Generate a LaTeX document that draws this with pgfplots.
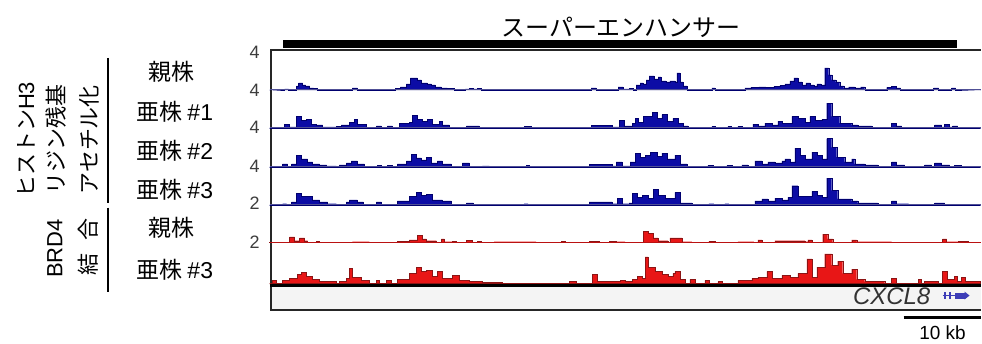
\documentclass[border=0pt]{standalone}
\usepackage{fontspec}
\setmainfont{Liberation Sans}
\newfontfamily\cjk{Noto Sans CJK JP}
\newfontfamily\lat{Liberation Sans}
\usepackage{pgfplots}
\pgfplotsset{compat=1.18}
\definecolor{h3blue}{RGB}{12,12,165}
\definecolor{h3dark}{RGB}{0,0,110}
\definecolor{h3line}{RGB}{80,80,150}
\definecolor{brdred}{RGB}{232,22,22}
\definecolor{brddark}{RGB}{140,20,20}
\definecolor{genebg}{RGB}{244,244,244}
\definecolor{numgray}{RGB}{60,60,60}
\pgfplotsset{
  track/.style={scale only axis, width=712pt, xmin=0, xmax=712, ymin=0,
    axis lines=none, anchor=south west, clip=false},
  bluesig/.style={const plot, fill=h3blue, draw=h3dark, line width=0.3pt},
  redsig/.style={const plot, fill=brdred, draw=brddark, line width=0.3pt},
}
\begin{document}
\begin{tikzpicture}
\begin{scope}[x=1pt,y=1pt]
\useasboundingbox (0,0) rectangle (982,344);
% gene track background and frame
\fill[genebg] (271,34) rectangle (982,57.5);
\draw[line width=2pt, black!85] (982,294) -- (271,294) -- (271,34) -- (982,34);
% super-enhancer
\fill[black] (283,296) rectangle (958,304);
\node[font=\cjk\fontsize{24}{28}\selectfont] at (622,317) {スーパーエンハンサー};
\end{scope}

% Track 1: H3 parent
\begin{axis}[track, at={(270pt,254pt)}, height=40pt, ymax=4]
\addplot[bluesig] coordinates {(0,0) (15,0.1) (19,0) (27,0.4) (29,0.7) (33,0.5) (36,0.4) (40,0.2) (44,0.15) (48,0) (83,0.2) (88,0) (126,0.15) (131,0.3) (137,0.6) (141,1.2) (148,1.0) (152,0.7) (158,0.6) (162,0.5) (166,0.3) (172,0.2) (178,0.15) (185,0) (196,0.1) (200,0.15) (204,0.1) (208,0.15) (212,0) (322,0.2) (327,0) (349,0.3) (354,0.1) (360,0.15) (364,0) (367,0.5) (371,0.7) (374,0.6) (377,1.0) (380,1.4) (385,1.1) (389,1.3) (392,0.9) (397,0.8) (401,0.9) (406,0.8) (408,1.7) (411,0.8) (414,0.4) (418,0) (443,0.2) (446,0) (476,0.2) (482,0.25) (490,0.3) (497,0.25) (505,0.35) (511,0.45) (516,0.6) (521,0.9) (525,1.2) (529,0.8) (533,0.5) (537,0.7) (541,0.5) (545,0.4) (548,0.6) (552,0.5) (556,2.2) (560,1.5) (563,1.0) (567,0.8) (571,0.4) (575,0.2) (580,0.3) (586,0.2) (592,0.3) (596,0) (618,0.25) (623,0.35) (628,0.2) (632,0) (665,0.2) (670,0) (683,0.2) (687,0) (712,0)} \closedcycle;
\addplot[h3line, line width=1pt] coordinates {(0,0) (712,0)};
\end{axis}

% Track 2: H3 subclone #1
\begin{axis}[track, at={(270pt,216pt)}, height=38pt, ymax=4]
\addplot[bluesig] coordinates {(0,0) (15,0.4) (20,0.1) (27,1.2) (32,0.8) (37,0.9) (42,0.4) (47,0.3) (53,0.1) (67,0.15) (72,0.3) (80,0.6) (85,0.9) (88,0.4) (97,0) (107,0.2) (112,0) (118,0.2) (123,0) (130,0.5) (140,0.6) (143,1.3) (148,0.9) (153,0.7) (158,0.9) (163,0.4) (170,0.7) (173,0.3) (180,0) (197,0.2) (210,0) (255,0.15) (262,0) (322,0.25) (343,0.1) (350,0.8) (355,0.2) (363,0.5) (366,1.0) (369,0.6) (374,1.2) (383,1.6) (388,1.0) (393,1.4) (398,0.7) (404,1.0) (409,0.5) (414,0.2) (419,0) (443,0.15) (446,0) (459,0.15) (462,0) (469,0.15) (473,0) (484,0.4) (489,0.2) (496,0.5) (503,0.3) (509,0.7) (513,0.5) (523,1.2) (529,1.0) (536,0.6) (541,1.2) (546,0.8) (553,0.9) (558,2.6) (563,1.2) (571,0.5) (583,0.3) (589,0.2) (603,0) (623,0.5) (628,0.2) (633,0) (666,0.3) (673,0.1) (676,0.4) (681,0.1) (684,0.2) (689,0) (712,0)} \closedcycle;
\addplot[h3line, line width=1pt] coordinates {(0,0) (712,0)};
\end{axis}

% Track 3: H3 subclone #2
\begin{axis}[track, at={(270pt,177pt)}, height=39pt, ymax=4]
\addplot[bluesig] coordinates {(0,0) (13,0.3) (18,0) (22,0.3) (27,1.2) (32,0.8) (38,0.5) (43,0.3) (50,0.2) (57,0.1) (67,0) (70,0.2) (77,0.4) (82,0.6) (88,0.3) (95,0) (108,0.15) (112,0) (118,0.15) (123,0) (128,0.3) (137,0.6) (142,1.3) (147,0.9) (152,0.7) (157,1.0) (162,0.4) (168,0.6) (173,0.3) (182,0) (193,0.4) (200,0) (213,0.1) (220,0) (257,0.15) (260,0) (320,0.25) (343,0.1) (347,0.5) (353,0.1) (361,0.5) (366,1.4) (371,1.0) (376,1.2) (381,1.5) (388,1.1) (393,1.4) (398,0.8) (406,1.2) (411,0.3) (418,0) (439,0.15) (444,0) (458,0.15) (463,0) (473,0.2) (479,0) (486,0.6) (493,0.3) (499,0.5) (506,0.4) (513,0.6) (516,0.8) (521,0.5) (526,1.9) (531,1.2) (536,0.8) (543,1.5) (548,1.2) (553,0.8) (558,2.9) (563,2.0) (568,1.0) (576,0.5) (583,0.8) (586,0.3) (596,0.2) (609,0) (623,0.5) (628,0.2) (636,0) (656,0.2) (663,0) (666,0.4) (673,0.2) (681,0) (686,0.15) (693,0) (712,0)} \closedcycle;
\addplot[h3line, line width=1pt] coordinates {(0,0) (712,0)};
\end{axis}

% Track 4: H3 subclone #3
\begin{axis}[track, at={(270pt,139pt)}, height=38pt, ymax=4]
\addplot[bluesig] coordinates {(0,0) (13,0.1) (17,0) (22,0.3) (27,1.2) (32,0.9) (43,0.5) (50,0.3) (58,0.1) (67,0) (77,0.3) (80,0.5) (88,0.3) (94,0) (107,0.3) (112,0) (128,0.4) (140,0.9) (147,1.3) (152,1.0) (157,1.1) (163,0.5) (173,0.4) (182,0) (197,0.2) (204,0) (255,0.1) (259,0) (320,0.3) (343,0.1) (348,0.7) (353,0.1) (360,0.2) (363,1.2) (368,0.8) (373,1.0) (379,0.7) (384,1.6) (389,1.0) (396,0.7) (406,1.3) (411,0.2) (423,0) (440,0.1) (445,0) (456,0.1) (460,0) (486,0.4) (493,0.6) (499,0.4) (506,0.7) (513,0.5) (519,0.8) (523,2.0) (529,0.9) (543,1.4) (548,1.0) (553,0.8) (558,2.8) (563,1.5) (569,0.6) (583,0.4) (589,0.2) (609,0) (623,0.4) (628,0.1) (640,0) (666,0.2) (676,0) (712,0)} \closedcycle;
\addplot[h3line, line width=1pt] coordinates {(0,0) (712,0)};
\end{axis}

% Track 5: BRD4 parent
\begin{axis}[track, at={(270pt,101pt)}, height=38pt, ymax=2]
\addplot[redsig] coordinates {(0,0.03) (20,0.3) (25,0.1) (30,0.25) (35,0.1) (38,0) (47,0.08) (50,0) (83,0.05) (100,0) (128,0.08) (140,0.15) (148,0.4) (153,0.2) (157,0.1) (167,0) (172,0.2) (175,0.05) (183,0.08) (187,0) (197,0.12) (203,0) (208,0.08) (212,0) (225,0.05) (267,0) (292,0.08) (296,0) (320,0.08) (330,0) (340,0.08) (347,0.05) (356,0.03) (374,0.6) (379,0.5) (384,0.25) (389,0.1) (399,0) (401,0.25) (413,0.05) (423,0) (440,0.08) (446,0) (469,0.05) (485,0) (489,0.15) (493,0) (506,0.1) (536,0.05) (539,0.15) (543,0) (554,0.45) (559,0.2) (564,0) (583,0.15) (588,0.05) (623,0) (674,0.2) (678,0.05) (690,0.08) (700,0) (712,0)} \closedcycle;
\addplot[brdred!80!black, line width=0.8pt] coordinates {(0,0) (712,0)};
\end{axis}

% Track 6: BRD4 subclone #3
\begin{axis}[track, at={(270pt,60pt)}, height=41pt, ymax=2]
\addplot[redsig] coordinates {(0,0) (3,0.15) (7,0) (13,0.15) (20,0.25) (28,0.45) (32,0.55) (37,0.35) (43,0.2) (50,0.12) (67,0) (70,0.1) (77,0.25) (80,0.75) (83,0.3) (92,0.15) (100,0) (107,0.15) (110,0) (117,0.15) (122,0) (128,0.2) (140,0.5) (147,0.8) (152,0.6) (157,0.65) (163,0.35) (168,0.6) (173,0.25) (183,0.4) (190,0.15) (200,0.1) (213,0.05) (233,0) (300,0.1) (307,0) (323,0.45) (328,0.1) (340,0.1) (351,0.15) (356,0.1) (363,0.2) (368,0.35) (373,0.25) (376,1.3) (379,0.8) (386,0.6) (393,0.45) (399,0.35) (404,0.5) (406,0.6) (411,0.2) (416,0) (421,0.2) (426,0) (436,0.15) (440,0) (449,0.1) (453,0) (469,0.15) (483,0.25) (489,0.3) (498,0.6) (503,0.25) (513,0.4) (521,0.3) (529,0.5) (538,1.2) (543,0.3) (548,0.8) (556,1.45) (563,0.9) (569,1.1) (574,0.5) (583,0.7) (588,0.2) (596,0.1) (616,0) (623,0.25) (628,0) (650,0.2) (653,0) (656,0.1) (670,0) (674,0.6) (679,0.2) (686,0.35) (689,0.1) (693,0.3) (697,0.1) (712,0.1)} \closedcycle;
\end{axis}

\begin{scope}[x=1pt,y=1pt]
% thick line under BRD4 track
\draw[line width=3pt, black] (270,58.5) -- (982,58.5);
% scale numbers
\begin{scope}[every node/.style={font=\lat\fontsize{18}{20}\selectfont, text=numgray}]
\node at (255,292) {4};
\node at (255,254) {4};
\node at (255,216) {4};
\node at (255,177) {4};
\node at (255,140) {2};
\node at (255,101) {2};
\end{scope}
% sample labels
\begin{scope}[every node/.style={font=\cjk\fontsize{23}{26}\selectfont}]
\node at (172,272) {親株};
\node at (175,232) {亜株 {\lat\#1}};
\node at (175,193) {亜株 {\lat\#2}};
\node at (175,154) {亜株 {\lat\#3}};
\node at (172,116) {親株};
\node at (175,74) {亜株 {\lat\#3}};
\end{scope}
% group labels
\begin{scope}[every node/.style={font=\cjk\fontsize{22}{24}\selectfont, rotate=90}]
\node at (26,204) {ヒストン{\lat H3}};
\node at (56,204) {リジン残基};
\node at (89,204) {アセチル化};
\node at (55,95) {\lat BRD4};
\node at (88,97) {結\hspace{13pt}合};
\end{scope}
\draw[line width=1.5pt] (108,286) -- (108,141);
\draw[line width=1.5pt] (108,136) -- (108,52);
% gene annotation
\node[font=\lat\itshape\fontsize{24}{26}\selectfont, text=black!80] at (893,47) {CXCL8};
\begin{scope}[h3blue!80!white]
\draw[line width=1pt] (944,48) -- (968,48);
\fill (945,44.5) rectangle (947.5,51.5);
\fill (950,44.5) rectangle (952.5,51.5);
\fill (956,45) rectangle (966,51);
\fill (966,44) -- (971,48) -- (966,52) -- cycle;
\end{scope}
% scale bar
\draw[line width=3pt] (905,26) -- (982,26);
\node[font=\lat\fontsize{19}{21}\selectfont, anchor=base] at (944,4) {10 kb};
\end{scope}
\end{tikzpicture}
\end{document}
